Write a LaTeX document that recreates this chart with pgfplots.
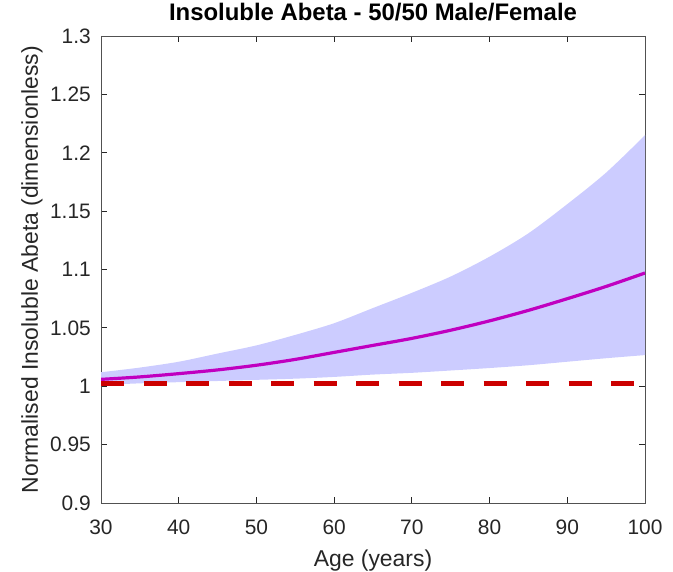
\documentclass[border=0pt]{standalone}
\usepackage{fontspec}
\setmainfont{Liberation Sans}
\usepackage{pgfplots}
\usepackage{pgfplotstable}
\pgfplotsset{compat=1.18}
\usepgfplotslibrary{fillbetween}
\definecolor{bandfill}{RGB}{204,204,255}
\definecolor{meanline}{RGB}{192,0,192}
\definecolor{refline}{RGB}{204,0,0}
\definecolor{axgray}{RGB}{38,38,38}

\pgfplotstableread{
x mean upper lower
30 1.0059 1.0120 1.0010
35 1.0080 1.0160 1.0025
40 1.0108 1.0210 1.0035
45 1.0140 1.0280 1.0045
50 1.0180 1.0350 1.0055
55 1.0230 1.0440 1.0065
60 1.0290 1.0540 1.0080
65 1.0350 1.0670 1.0100
70 1.0410 1.0800 1.0115
75 1.0480 1.0940 1.0135
80 1.0560 1.1110 1.0156
85 1.0650 1.1310 1.0180
90 1.0750 1.1560 1.0210
95 1.0855 1.1830 1.0240
100 1.0970 1.2150 1.0267
}\datatable

\begin{document}
\begin{tikzpicture}
\begin{axis}[
  scale only axis,
  width=544bp, height=467bp,
  xmin=30, xmax=100, ymin=0.9, ymax=1.3,
  xtick={30,40,50,60,70,80,90,100},
  ytick={0.9,0.95,1,1.05,1.1,1.15,1.2,1.25,1.3},
  yticklabels={0.9,0.95,1,1.05,1.1,1.15,1.2,1.25,1.3},
  xtick pos=both, ytick pos=both,
  ticklabel pos=left,
  tick align=inside,
  major tick length=6bp,
  tick style={axgray, line width=0.8bp},
  axis line style={axgray!80, line width=0.9bp},
  /pgf/number format/assume math mode=true,
  tick label style={font=\fontsize{21}{25}\selectfont, text=axgray, inner sep=0pt},
  yticklabel style={anchor=east},
  xticklabel style={anchor=north},
  yticklabel shift=10bp,
  xticklabel shift=17bp,
  title={\textbf{Insoluble Abeta - 50/50 Male/Female}},
  title style={at={(axis description cs:0.5,1)}, anchor=base, yshift=10bp, font=\fontsize{24}{28}\selectfont, text=black},
  xlabel={Age (years)},
  ylabel={Normalised Insoluble Abeta (dimensionless)},
  xlabel style={at={(axis description cs:0.5,-0.135)}, anchor=base, font=\fontsize{23}{27}\selectfont, text=axgray},
  ylabel style={at={(axis description cs:-0.116,0.5)}, anchor=base, font=\fontsize{23}{27}\selectfont, text=axgray},
]
\addplot[name path=U, draw=none, forget plot, smooth] table[x=x, y=upper] {\datatable};
\addplot[name path=L, draw=none, forget plot, smooth] table[x=x, y=lower] {\datatable};
\addplot[bandfill, draw=none] fill between[of=U and L];
\addplot[meanline, line width=3.2bp, smooth] table[x=x, y=mean] {\datatable};
\addplot[refline, line width=5.5bp, dash pattern=on 23bp off 19.5bp] coordinates {(30,1.00225) (100,1.00225)};
\end{axis}
\pgfresetboundingbox
\path ([xshift=-101bp,yshift=-68bp]current axis.south west) rectangle ([xshift=28bp,yshift=36bp]current axis.north east);
\end{tikzpicture}
\end{document}
